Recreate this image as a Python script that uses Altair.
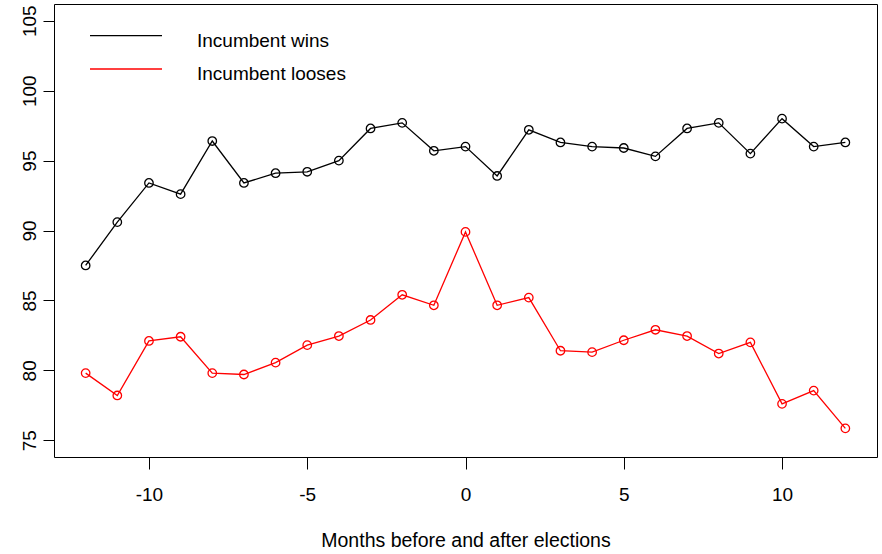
import altair as alt
import pandas as pd

months = list(range(-12, 13))
series_names = ["Incumbent wins", "Incumbent looses"]
wins = [87.5, 90.6, 93.4, 92.6, 96.4, 93.4, 94.1, 94.2, 95.0, 97.3, 97.7, 95.7, 96.0,
        93.9, 97.2, 96.3, 96.0, 95.9, 95.3, 97.3, 97.7, 95.5, 98.0, 96.0, 96.3]
looses = [79.8, 78.2, 82.1, 82.4, 79.8, 79.7, 80.55, 81.8, 82.45, 83.6, 85.4, 84.65, 89.9,
          84.65, 85.2, 81.4, 81.3, 82.15, 82.9, 82.45, 81.2, 82.0, 77.6, 78.55, 75.85]
x_ticks = [-10, -5, 0, 5, 10]
y_ticks = [75, 80, 85, 90, 95, 100, 105]
colors = ["#000000", "#FF0000"]

df = pd.DataFrame({
    "month": months * 2,
    "value": wins + looses,
    "series": [series_names[0]] * len(months) + [series_names[1]] * len(months),
})

FONT = "Liberation Sans"

x_enc = alt.X("month:Q",
              scale=alt.Scale(domain=[-13, 13], nice=False, zero=False),
              axis=alt.Axis(values=x_ticks, title="Months before and after elections",
                            labelExpr="datum.value + ''",
                            grid=False, domain=False, tickSize=12, tickColor="black",
                            labelFontSize=19, labelPadding=16, labelColor="black",
                            labelFont=FONT, titleFont=FONT, titleFontSize=19.5,
                            titleFontWeight="normal", titleColor="black",
                            titleY=89, titleBaseline="alphabetic"))
y_enc = alt.Y("value:Q",
              scale=alt.Scale(domain=[73.8, 106.2], nice=False, zero=False),
              axis=alt.Axis(values=y_ticks, title=None, grid=False, domain=False,
                            tickSize=11, tickColor="black", labelFontSize=19,
                            labelAngle=270, labelAlign="center",
                            labelBaseline="alphabetic", labelPadding=8,
                            labelColor="black", labelFont=FONT))
color_enc = alt.Color("series:N", scale=alt.Scale(domain=series_names, range=colors),
                      legend=None)

base = alt.Chart(df)
lines = base.mark_line(strokeWidth=1.3).encode(x=x_enc, y=y_enc, color=color_enc,
                                                detail="series:N")
points = base.mark_point(shape="circle", filled=False, size=72, strokeWidth=1.3,
                         opacity=1).encode(x=x_enc, y=y_enc, color=color_enc)

one = pd.DataFrame({"k": [0]})
leg_layers = []
for i, (name, col) in enumerate(zip(series_names, colors)):
    ly = 31.7 + i * 33.3
    leg_layers.append(
        alt.Chart(one).mark_rule(color=col, strokeWidth=1.3).encode(
            x=alt.value(36), x2=alt.value(108), y=alt.value(ly)))
    leg_layers.append(
        alt.Chart(one).mark_text(text=name, align="left", baseline="alphabetic",
                                 fontSize=19, font=FONT, color="black").encode(
            x=alt.value(143), y=alt.value(42.7 + i * 33.3)))

chart = alt.layer(lines, points, *leg_layers).properties(
    width=823, height=453,
    autosize=alt.AutoSizeParams(type="none"),
    padding={"left": 54, "top": 4, "right": 5, "bottom": 97},
    background="white",
).configure_view(stroke="black", strokeWidth=1)

chart.save("out.html", embed_options={"renderer": "svg", "actions": False})
